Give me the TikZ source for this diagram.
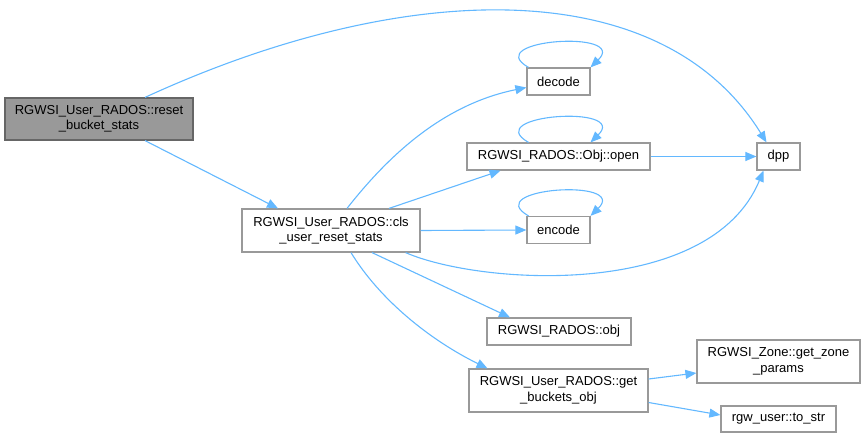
\documentclass[tikz,border=0pt]{standalone}
\usepackage{fontspec}
\setmainfont{Liberation Sans}
\usepackage{xcolor}
\usepackage{tikz}
\usetikzlibrary{arrows.meta,positioning,calc}
\definecolor{callblue}{HTML}{63B8FF}
\definecolor{rimgray}{HTML}{999999}
\definecolor{rootgray}{HTML}{999999}
\definecolor{rootrim}{HTML}{666666}
\tikzset{
    fnnode/.style={rectangle,draw=rimgray,line width=1.2pt,fill=white,inner sep=0pt,align=center,font=\fontsize{13}{15.5}\selectfont},
    rootnode/.style={fnnode,draw=rootrim,fill=rootgray},
    call/.style={-{Triangle[length=11pt,width=9pt]},draw=callblue,line width=1.1pt}
}

\begin{document}
\begin{tikzpicture}[x=1pt,y=-1pt]
    \useasboundingbox (0,0) rectangle (865,439);

    % Caller
    \node[rootnode,minimum width=188pt,minimum height=42pt] (reset) at (99,119) {RGWSI\_User\_RADOS::reset\\\_bucket\_stats};

    % First level
    \node[fnnode,minimum width=178pt,minimum height=43pt] (cls) at (331,230.5) {RGWSI\_User\_RADOS::cls\\\_user\_reset\_stats};

    % Callees of cls_user_reset_stats
    \node[fnnode,minimum width=63pt,minimum height=27pt] (decode) at (558.5,81.5) {decode};
    \node[fnnode,minimum width=183pt,minimum height=27pt] (open) at (558.5,156.5) {RGWSI\_RADOS::Obj::open};
    \node[fnnode,minimum width=63pt,minimum height=27pt] (encode) at (558.5,230) {encode};
    \node[fnnode,minimum width=144pt,minimum height=27pt] (obj) at (559,331.5) {RGWSI\_RADOS::obj};
    \node[fnnode,minimum width=179pt,minimum height=43pt] (getb) at (558.5,390.5) {RGWSI\_User\_RADOS::get\\\_buckets\_obj};

    % Last level
    \node[fnnode,minimum width=43pt,minimum height=27pt] (dpp) at (778.5,156.5) {dpp};
    \node[fnnode,minimum width=163pt,minimum height=43pt] (zone) at (778.5,361.5) {RGWSI\_Zone::get\_zone\\\_params};
    \node[fnnode,minimum width=115pt,minimum height=26pt] (tostr) at (778.5,419) {rgw\_user::to\_str};

    % Calls
    \draw[call] ([xshift=46pt]reset.north) .. controls (400,-20) and (660,-30) .. ([xshift=-12pt]dpp.north);
    \draw[call] ([xshift=46pt]reset.south) -- ([xshift=-53pt]cls.north);
    \draw[call] ([xshift=16pt]cls.north) .. controls (385,160) and (440,105) .. ([yshift=-6pt]decode.west);
    \draw[call] ([xshift=58pt]cls.north) -- ([xshift=-58pt]open.south);
    \draw[call] (cls.east) -- (encode.west);
    \draw[call] ([xshift=-15pt]cls.south east) .. controls (480,285) and (710,300) .. ([xshift=-15pt]dpp.south);
    \draw[call] ([xshift=41pt]cls.south) -- ([xshift=-49pt]obj.north);
    \draw[call] ([xshift=20pt]cls.south) .. controls (380,300) and (430,340) .. ([xshift=-71pt]getb.north);
    \draw[call] (open.east) -- (dpp.west);
    \draw[call] ([yshift=11.5pt]getb.east) -- ([yshift=-11.5pt]zone.west);
    \draw[call] ([yshift=-12pt]getb.east) -- ([yshift=4pt]tostr.west);

    % Recursive calls
    \foreach \n in {decode,open,encode} {
        \draw[call] ($(\n.north)+(-30,0)$) .. controls +(-49,-28) and +(39,-38) .. ($(\n.north)+(32,0)$);
    }
\end{tikzpicture}
\end{document}
